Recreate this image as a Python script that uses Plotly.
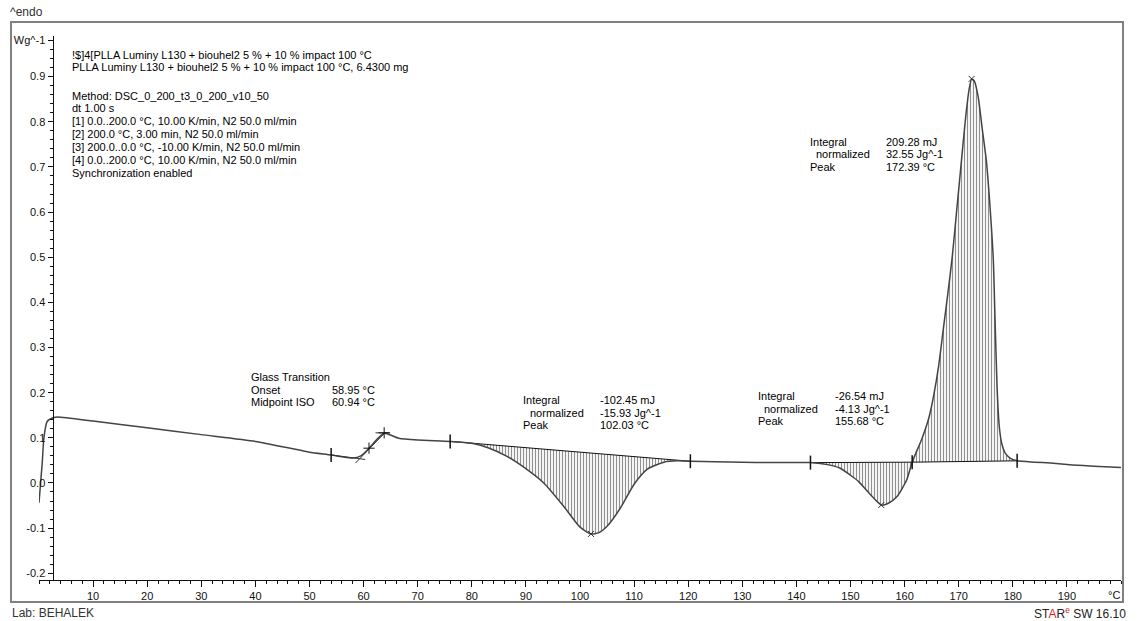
import plotly.graph_objects as go

# DSC heating curve (temperature in degC, heat flow in W/g)
temp = [0, 0.6, 0.9, 1.5, 2.7, 3.5, 10, 20, 30, 40, 46, 50, 54, 56, 58, 59.5, 61, 62.5,
        63.8, 65, 66.5, 70, 76, 80, 83, 86.5, 89.6, 93.3, 97, 100, 102, 103.5, 105, 107.5,
        110, 112.4, 115.5, 118, 120.4, 125, 130, 135, 142.6, 146, 148, 150, 151.5, 153.7,
        155.7, 157, 158.6, 160.4, 161.4, 163.2, 164.5, 165.4, 166.3, 167.2, 168.0, 168.8,
        169.6, 170.4, 171.2, 171.9, 172.4, 172.9, 173.6, 174.4, 175.1, 175.8, 176.4, 176.7,
        177.1, 177.5, 178.0, 178.6, 179.5, 180.8, 184, 187, 191, 195, 200]
heat_flow = [-0.044, 0.045, 0.099, 0.136, 0.145, 0.146, 0.137, 0.122, 0.107, 0.092, 0.078,
             0.068, 0.062, 0.058, 0.055, 0.060, 0.077, 0.097, 0.110, 0.106, 0.099, 0.095,
             0.092, 0.088, 0.078, 0.059, 0.035, 0.0, -0.052, -0.098, -0.113, -0.110, -0.096,
             -0.055, -0.003, 0.030, 0.046, 0.049, 0.048, 0.047, 0.046, 0.045, 0.045, 0.040,
             0.033, 0.017, 0.003, -0.026, -0.049, -0.045, -0.030, 0.007, 0.046, 0.098, 0.145,
             0.195, 0.260, 0.345, 0.420, 0.500, 0.600, 0.700, 0.800, 0.870, 0.895, 0.890,
             0.855, 0.780, 0.715, 0.610, 0.494, 0.370, 0.210, 0.125, 0.085, 0.066, 0.055,
             0.049, 0.046, 0.044, 0.040, 0.037, 0.034]

# integration limits (start, end) and baseline values there
integ_start = [76, 142.6, 161.4]
integ_end = [120.4, 161.4, 180.8]
base_start = [0.092, 0.045, 0.046]
base_end = [0.048, 0.046, 0.049]

# evaluated points
peak_t = [102.03, 155.68, 172.39]
peak_v = [-0.113, -0.049, 0.895]
limit_t = [54, 76, 120.4, 142.6, 161.4, 180.8]
limit_v = [0.062, 0.092, 0.048, 0.045, 0.046, 0.049]
gt_mark_t = [61.0, 63.8]
gt_mark_v = [0.077, 0.111]
# glass transition tangents
tang_t = [54, 60.3, None, 58.5, 64.0, None, 62.2, 64.9]
tang_v = [0.062, 0.052, None, 0.044, 0.112, None, 0.111, 0.111]

x_ticks = list(range(10, 200, 10))
y_ticks = [-0.2, -0.1, 0.0, 0.1, 0.2, 0.3, 0.4, 0.5, 0.6, 0.7, 0.8, 0.9, 0.98]
y_labels = ["-0.2", "-0.1", "0.0", "0.1", "0.2", "0.3", "0.4", "0.5", "0.6", "0.7", "0.8", "0.9", "Wg^-1"]

header_lines = [
    "!$]4[PLLA Luminy L130 + biouhel2 5 % + 10 % impact 100 °C",
    "PLLA Luminy L130 + biouhel2 5 % + 10 % impact 100 °C, 6.4300 mg",
    "Method: DSC_0_200_t3_0_200_v10_50",
    "dt 1.00 s",
    "[1] 0.0..200.0 °C, 10.00 K/min, N2 50.0 ml/min",
    "[2] 200.0 °C, 3.00 min, N2 50.0 ml/min",
    "[3] 200.0..0.0 °C, -10.00 K/min, N2 50.0 ml/min",
    "[4] 0.0..200.0 °C, 10.00 K/min, N2 50.0 ml/min",
    "Synchronization enabled",
]
header_y = [55, 67, 96, 108, 121, 134, 147, 160, 173]

integral_vals = [["-102.45 mJ", "-15.93 Jg^-1", "102.03 °C"],
                 ["-26.54 mJ", "-4.13 Jg^-1", "155.68 °C"],
                 ["209.28 mJ", "32.55 Jg^-1", "172.39 °C"]]
integral_pos = [(521, 528, 598, 400), (756, 762, 833, 396), (808, 814, 884, 142)]

FONT = "Liberation Sans, Arial, sans-serif"
L, R, T_, B = 39, 1121, 36, 580


def px(x):
    return (x - L) / (R - L)


def py(y):
    return (B - y) / (B - T_)


fig = go.Figure()

# hatched integration areas
for a, b, va, vb in zip(integ_start, integ_end, base_start, base_end):
    seg_t = [t for t in temp if a <= t <= b]
    seg_v = [v for t, v in zip(temp, heat_flow) if a <= t <= b]
    fig.add_trace(go.Scatter(x=[a, b], y=[va, vb], mode="lines",
                             line=dict(color="#111", width=1), hoverinfo="skip"))
    fig.add_trace(go.Scatter(x=seg_t, y=seg_v, mode="lines",
                             line=dict(width=0, shape="spline", smoothing=0.6),
                             fill="tonexty", fillcolor="rgba(0,0,0,0)",
                             fillpattern=dict(shape="|", size=3, solidity=0.4,
                                              fgcolor="#222", bgcolor="rgba(0,0,0,0)"),
                             hoverinfo="skip"))

fig.add_trace(go.Scatter(x=temp, y=heat_flow, mode="lines",
                         line=dict(color="#444", width=1.5, shape="spline", smoothing=0.6)))
fig.add_trace(go.Scatter(x=tang_t, y=tang_v, mode="lines",
                         line=dict(color="#333", width=1)))
fig.add_trace(go.Scatter(x=limit_t, y=limit_v, mode="markers",
                         marker=dict(symbol="line-ns-open", size=10, color="#111",
                                     line=dict(color="#111", width=1.5))))
fig.add_trace(go.Scatter(x=peak_t, y=peak_v, mode="markers",
                         marker=dict(symbol="x-thin-open", size=6, color="#333",
                                     line=dict(color="#333", width=1))))
fig.add_trace(go.Scatter(x=gt_mark_t, y=gt_mark_v, mode="markers",
                         marker=dict(symbol="cross-thin-open", size=8, color="#111",
                                     line=dict(color="#111", width=1))))

ann = []


def text(x, y, s, anchor="left", size=11, color="#000"):
    ann.append(dict(x=px(x), y=py(y), xref="paper", yref="paper", text=s,
                    showarrow=False, xanchor=anchor, yanchor="middle",
                    font=dict(family=FONT, size=size, color=color)))


for line, y in zip(header_lines, header_y):
    text(70, y, line)

text(249, 377, "Glass Transition")
text(249, 389.5, "Onset")
text(249, 402, "Midpoint ISO")
text(330, 389.5, "58.95 °C")
text(330, 402, "60.94 °C")

for (xl, xn, xv, y0), vals in zip(integral_pos, integral_vals):
    text(xl, y0, "Integral")
    text(xn, y0 + 12.5, "normalized")
    text(xl, y0 + 25, "Peak")
    for i, v in enumerate(vals):
        text(xv, y0 + 12.5 * i, v)

text(1114, 595, "°C", anchor="center", color="#111")
text(8, 12, "^endo", size=12, color="#333")
text(10, 613, "Lab: BEHALEK", size=12, color="#333")
text(1128, 613, "ST<span style='color:#e0231c'>A</span>R"
     "<sup><span style='color:#e0231c'>e</span></sup> SW 16.10",
     anchor="right", size=12, color="#222")

fig.update_layout(
    width=1138, height=621,
    margin=dict(l=L, r=1138 - R, t=T_, b=621 - B),
    paper_bgcolor="white", plot_bgcolor="white",
    showlegend=False,
    annotations=ann,
    shapes=[dict(type="rect", xref="paper", yref="paper",
                 x0=px(11), x1=px(1123), y0=py(602), y1=py(22),
                 line=dict(color="#808080", width=2))],
    xaxis=dict(range=[0, 200], showgrid=False, zeroline=False, showline=True,
               linecolor="#111", linewidth=1, ticks="outside", ticklen=6,
               tickcolor="#111", tickmode="array", tickvals=x_ticks,
               tickfont=dict(family=FONT, size=11, color="#111"),
               minor=dict(tickmode="linear", tick0=0, dtick=2, ticklen=3,
                          ticks="outside", tickcolor="#111")),
    yaxis=dict(range=[-0.215, 0.99], showgrid=False, zeroline=False, showline=True,
               linecolor="#111", linewidth=1, anchor="free", position=px(52.5),
               ticks="outside", ticklen=5, tickcolor="#111", tickmode="array",
               tickvals=y_ticks, ticktext=y_labels,
               tickfont=dict(family=FONT, size=11, color="#111"),
               minor=dict(tickmode="linear", tick0=0, dtick=0.02, ticklen=3,
                          ticks="outside", tickcolor="#111")),
)

# the page's default body margin would push the figure 8px down/right
fig.write_html("out.html", config={"displayModeBar": False},
               post_script="document.body.style.margin='0';")
